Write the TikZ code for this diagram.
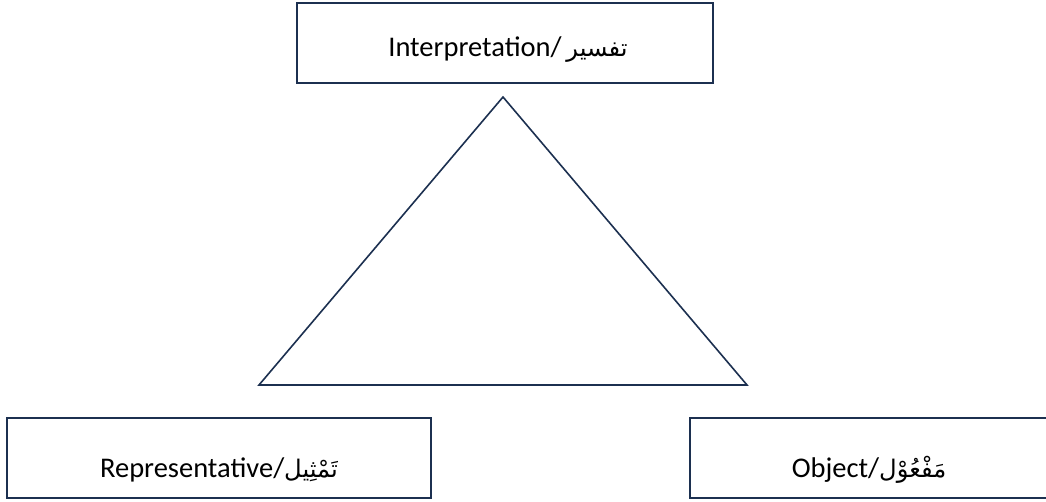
\documentclass[tikz,border=0pt]{standalone}
\usepackage{fontspec}
\setmainfont{Carlito}
\newfontfamily\arabicfont[Script=Arabic,Scale=0.85]{DejaVu Sans}
\TeXXeTstate=1
\usetikzlibrary{positioning}
\definecolor{triNavy}{HTML}{1C3050}
\tikzset{
  tri box/.style={draw=triNavy, line width=1.8pt, rectangle, inner sep=0pt, minimum height=80pt},
  tri edge/.style={draw=triNavy, line width=1.6pt, line join=miter},
  tri label/.style={font=\fontsize{28.5}{32}\selectfont, text=black, inner sep=0pt, anchor=base},
}
\begin{document}
\begin{tikzpicture}[x=1pt,y=-1pt]
  \useasboundingbox (0,0) rectangle (1046,502);
  % the three corner boxes
  \node[tri box, minimum width=416pt] (interp) at (505,43) {};
  \node[tri box, minimum width=424pt] (repr) at (219,458) {};
  \node[tri box, minimum width=362pt] (obj) at (871,458) {};
  \node[tri label] (interpText) at ([xshift=3pt,yshift=-14pt]interp.center) {Interpretation/\,{\arabicfont\beginR تفسير\endR}};
  \node[tri label] (reprText) at ([yshift=-19pt]repr.center) {Representative/{\arabicfont\beginR تَمْثِيل\endR}};
  \node[tri label] (objText) at ([xshift=-2pt,yshift=-19pt]obj.center) {Object/{\arabicfont\beginR مَفْعُوْل\endR}};
  % triangle between them
  \coordinate (apex) at (503,97);
  \coordinate (baseL) at (259,385);
  \coordinate (baseR) at (747,385);
  \draw[tri edge] (apex) -- (baseR) -- (baseL) -- cycle;
\end{tikzpicture}
\end{document}
